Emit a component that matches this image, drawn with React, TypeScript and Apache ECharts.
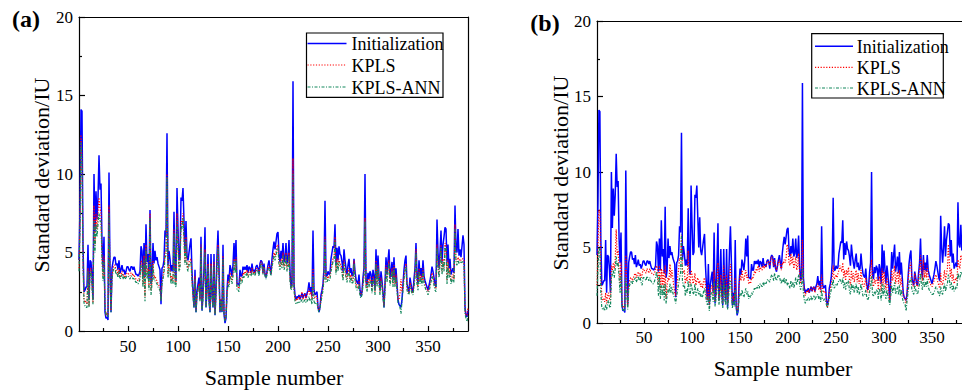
import React, { useEffect, useRef } from "react";
import * as echarts from "echarts";

const SERIES_NAMES = ["Initialization", "KPLS", "KPLS-ANN"];
const X_MAJOR = [50, 100, 150, 200, 250, 300, 350];
const X_MINOR = [25, 75, 125, 175, 225, 275, 325, 375];
const X_MIN = 1;
const X_MAX_A = 390;
const X_MAX_B = 381; // panel (b) is cropped at the right edge of the picture

// Initialization (same in both panels), samples 1..390
const INIT = [
  4.5, 8.0, 14.1, 14.0, 5.5, 2.5, 2.6, 2.8, 2.8, 5.5,
  2.0, 4.5, 4.4, 3.5, 2.0, 10.0, 6.3, 8.9, 7.1, 8.5,
  11.2, 9.0, 9.4, 5.6, 4.0, 6.0, 1.2, 0.8, 0.9, 0.7,
  10.1, 4.0, 1.2, 4.0, 4.4, 4.7, 4.7, 4.2, 4.3, 3.9,
  4.5, 3.7, 3.9, 4.2, 3.8, 3.9, 3.6, 3.8, 4.1, 4.1,
  3.9, 3.8, 4.1, 4.1, 3.9, 4.1, 3.8, 3.6, 3.6, 3.5,
  3.6, 3.8, 5.4, 5.1, 3.4, 5.6, 3.5, 6.8, 4.4, 4.9,
  3.3, 7.7, 3.0, 3.5, 5.6, 4.3, 5.1, 4.5, 4.7, 4.3,
  4.1, 3.9, 1.7, 4.0, 4.1, 4.5, 6.4, 6.0, 12.6, 4.2,
  5.1, 4.6, 3.8, 4.2, 3.8, 7.6, 3.9, 3.2, 9.1, 6.5,
  4.5, 4.7, 8.5, 8.3, 9.1, 7.0, 5.0, 7.0, 4.8, 4.5,
  5.0, 5.5, 5.9, 3.8, 2.5, 1.5, 3.9, 1.2, 2.5, 3.0,
  3.4, 2.0, 6.0, 1.3, 2.3, 4.0, 6.6, 1.5, 2.7, 4.9,
  2.0, 1.2, 4.9, 2.3, 1.5, 4.9, 1.0, 2.5, 4.8, 6.4,
  4.0, 1.2, 2.0, 1.2, 5.5, 1.1, 0.5, 0.8, 2.6, 3.6,
  3.2, 4.2, 3.9, 3.5, 4.2, 5.6, 4.4, 5.8, 3.0, 3.0,
  2.9, 3.9, 3.5, 3.5, 4.1, 3.9, 4.1, 3.9, 4.2, 3.7,
  4.1, 4.0, 3.7, 4.3, 3.8, 3.9, 3.7, 4.1, 4.2, 4.0,
  3.6, 4.3, 4.5, 4.4, 3.7, 4.3, 3.6, 3.4, 3.8, 4.2,
  4.5, 4.0, 3.6, 4.6, 5.2, 5.7, 5.2, 5.7, 6.2, 6.3,
  4.9, 4.4, 5.1, 4.6, 5.6, 4.4, 4.6, 5.6, 4.3, 4.6,
  5.8, 3.8, 2.8, 3.0, 15.9, 3.0, 2.3, 2.0, 2.2, 2.1,
  2.3, 2.0, 2.2, 2.4, 2.1, 2.3, 2.4, 2.1, 2.4, 2.6,
  3.1, 2.5, 2.8, 2.2, 6.4, 2.6, 2.3, 2.4, 2.5, 1.5,
  1.2, 1.5, 2.3, 2.6, 3.0, 4.0, 8.3, 3.5, 3.5, 3.8,
  3.6, 3.7, 4.6, 5.0, 5.4, 5.3, 6.8, 4.2, 5.3, 4.5,
  5.4, 4.9, 4.8, 4.4, 3.8, 5.2, 4.5, 4.0, 3.6, 4.2,
  4.6, 3.7, 4.0, 3.5, 3.6, 4.6, 3.8, 3.3, 3.1, 3.0,
  3.6, 2.6, 2.2, 2.5, 3.4, 4.0, 10.0, 3.2, 2.9, 3.7,
  3.3, 3.8, 3.6, 2.8, 3.9, 3.5, 2.6, 5.2, 3.3, 4.8,
  3.5, 2.6, 3.8, 3.2, 2.4, 1.5, 3.0, 4.7, 3.6, 4.5,
  5.2, 3.4, 3.8, 4.4, 3.3, 4.7, 3.2, 4.0, 3.0, 2.0,
  1.7, 1.6, 1.5, 2.0, 3.0, 3.9, 4.5, 4.8, 3.0, 2.7,
  2.5, 3.4, 3.0, 2.6, 2.5, 3.3, 4.0, 5.6, 3.5, 3.0,
  4.5, 3.5, 4.0, 3.4, 4.5, 3.5, 3.2, 3.0, 2.8, 2.6,
  2.9, 3.2, 3.6, 4.1, 3.8, 3.4, 3.0, 2.8, 7.1, 5.0,
  4.0, 5.0, 6.4, 4.4, 5.5, 6.0, 6.6, 6.5, 4.4, 5.5,
  4.0, 4.6, 3.6, 3.8, 4.0, 3.7, 8.0, 5.2, 5.0, 6.5,
  4.8, 5.2, 4.7, 5.4, 6.1, 5.5, 1.5, 1.0, 0.9, 1.3,
];

// Panel (a) KPLS
const KPLS_A = [
  4.0, 7.0, 12.5, 11.0, 4.5, 2.0, 1.8, 1.9, 1.7, 4.0,
  1.6, 3.8, 4.0, 3.0, 1.8, 8.0, 5.5, 7.5, 6.5, 7.5,
  8.5, 7.8, 7.5, 4.8, 3.5, 4.8, 1.5, 1.0, 1.2, 1.0,
  8.0, 3.5, 1.3, 3.5, 4.0, 4.2, 4.2, 3.8, 3.9, 3.5,
  4.0, 3.4, 3.6, 3.8, 3.5, 3.6, 3.4, 3.5, 3.7, 3.7,
  3.6, 3.5, 3.7, 3.7, 3.5, 3.6, 3.4, 3.3, 3.3, 3.2,
  3.3, 3.5, 4.5, 4.4, 3.0, 4.8, 2.2, 5.5, 3.6, 4.0,
  2.8, 7.5, 2.6, 3.2, 4.5, 3.4, 3.5, 3.3, 3.2, 3.0,
  2.9, 2.8, 2.0, 3.2, 3.5, 3.9, 5.0, 5.0, 10.0, 3.6,
  4.2, 4.0, 3.2, 3.5, 3.2, 6.5, 3.2, 3.0, 7.5, 5.8,
  4.0, 4.2, 7.0, 6.8, 7.5, 6.0, 4.4, 6.0, 4.2, 4.0,
  4.4, 4.5, 4.6, 3.3, 2.3, 1.6, 3.5, 1.3, 2.3, 2.7,
  3.0, 2.0, 5.5, 1.4, 2.2, 3.6, 5.2, 1.6, 2.5, 4.3,
  2.0, 1.3, 4.3, 2.2, 1.6, 4.4, 1.1, 2.4, 4.3, 5.5,
  3.6, 1.3, 2.0, 1.3, 4.8, 1.2, 0.7, 1.0, 2.4, 3.2,
  3.0, 3.7, 3.5, 3.2, 3.7, 4.6, 3.9, 4.7, 2.8, 2.8,
  2.7, 3.5, 3.2, 3.3, 3.7, 3.6, 3.8, 3.7, 3.9, 3.5,
  3.8, 3.8, 3.6, 4.0, 3.7, 3.8, 3.6, 3.9, 4.0, 3.9,
  3.6, 4.1, 4.4, 4.3, 3.7, 4.1, 3.6, 3.4, 3.7, 4.0,
  4.2, 3.9, 3.6, 4.3, 4.6, 5.0, 4.7, 5.0, 5.4, 5.5,
  4.4, 4.1, 4.6, 4.2, 5.0, 4.1, 4.3, 5.0, 4.0, 4.2,
  5.0, 3.4, 2.7, 2.8, 11.0, 2.8, 2.1, 1.9, 2.1, 2.0,
  2.2, 2.0, 2.3, 2.5, 2.0, 2.2, 2.4, 2.0, 2.3, 2.4,
  2.7, 2.3, 2.5, 2.0, 4.0, 2.3, 2.1, 2.2, 2.2, 1.5,
  1.3, 1.5, 2.1, 2.4, 2.8, 3.5, 6.0, 3.3, 3.3, 3.5,
  3.4, 3.5, 4.0, 4.3, 4.6, 4.6, 6.0, 3.8, 4.6, 4.0,
  4.6, 4.3, 4.2, 3.9, 3.4, 4.5, 4.0, 3.6, 3.3, 3.8,
  4.0, 3.3, 3.6, 3.2, 3.3, 4.5, 3.5, 3.0, 2.8, 2.8,
  3.2, 2.4, 2.3, 2.5, 3.1, 3.6, 7.2, 3.0, 2.7, 3.3,
  3.0, 3.4, 3.3, 2.6, 3.5, 3.2, 2.5, 4.5, 3.0, 4.2,
  3.2, 2.5, 3.4, 3.0, 2.3, 1.6, 2.8, 4.2, 3.3, 4.0,
  4.5, 3.1, 3.5, 4.0, 3.0, 4.2, 3.0, 3.6, 2.8, 2.0,
  2.0, 2.4, 3.3, 2.5, 2.8, 3.5, 4.0, 4.3, 2.8, 2.6,
  2.4, 3.1, 2.8, 2.5, 2.4, 3.0, 3.6, 5.2, 3.2, 2.8,
  4.0, 3.2, 3.6, 3.1, 4.0, 3.2, 3.0, 2.8, 2.7, 2.5,
  2.7, 3.0, 3.3, 3.7, 3.5, 3.1, 2.8, 2.7, 5.5, 4.2,
  3.6, 4.4, 5.5, 3.8, 4.6, 4.0, 5.6, 5.5, 3.2, 4.5,
  3.6, 4.0, 3.2, 3.4, 3.6, 3.3, 6.8, 4.5, 4.4, 4.7,
  4.5, 4.6, 4.5, 4.6, 4.6, 4.5, 1.3, 1.0, 1.0, 1.5,
];

// Panel (a) KPLS-ANN
const ANN_A = [
  3.8, 6.5, 12.0, 10.5, 4.2, 1.8, 1.6, 1.5, 1.5, 3.8,
  1.5, 3.5, 3.8, 2.8, 1.7, 7.0, 5.0, 6.8, 6.0, 6.8,
  7.5, 7.0, 7.0, 4.5, 3.2, 4.5, 1.4, 1.0, 1.1, 0.9,
  7.5, 3.3, 1.2, 3.3, 3.8, 4.0, 4.0, 3.6, 3.7, 3.4,
  3.8, 3.3, 3.4, 3.6, 3.3, 3.5, 3.3, 3.4, 3.5, 3.5,
  3.4, 3.3, 3.5, 3.5, 3.3, 3.4, 3.2, 3.1, 3.1, 3.0,
  3.1, 3.3, 4.2, 4.1, 2.8, 4.5, 1.9, 5.2, 3.3, 3.8,
  2.6, 7.2, 2.3, 3.0, 4.2, 3.2, 3.2, 3.1, 3.0, 2.8,
  2.7, 2.6, 1.9, 3.0, 3.3, 3.7, 4.7, 4.8, 9.8, 3.4,
  4.0, 3.8, 3.0, 3.3, 3.0, 6.2, 3.0, 2.8, 7.0, 5.5,
  3.8, 4.0, 6.7, 6.5, 7.2, 5.8, 4.2, 5.7, 4.0, 3.8,
  4.2, 4.3, 4.4, 3.1, 2.2, 1.5, 3.3, 1.2, 2.2, 2.6,
  2.9, 1.9, 5.3, 1.3, 2.1, 3.4, 5.0, 1.5, 2.4, 4.1,
  1.9, 1.2, 4.1, 2.1, 1.5, 4.2, 1.0, 2.3, 4.1, 5.3,
  3.4, 1.2, 1.9, 1.2, 4.6, 1.1, 0.6, 0.9, 2.3, 3.0,
  2.8, 3.5, 3.3, 3.0, 3.5, 4.4, 3.7, 4.5, 2.6, 2.6,
  2.5, 3.3, 3.0, 3.1, 3.5, 3.4, 3.6, 3.5, 3.7, 3.4,
  3.6, 3.6, 3.5, 3.8, 3.6, 3.7, 3.5, 3.8, 3.9, 3.8,
  3.5, 4.0, 4.3, 4.2, 3.6, 4.0, 3.5, 3.3, 3.6, 3.9,
  4.0, 3.8, 3.5, 4.1, 4.4, 4.8, 4.5, 4.8, 5.2, 5.3,
  4.2, 3.9, 4.4, 4.0, 4.8, 3.9, 4.1, 4.8, 3.8, 4.0,
  4.8, 3.2, 2.6, 2.7, 10.0, 2.6, 1.9, 1.7, 1.8, 1.8,
  1.9, 1.8, 1.9, 2.0, 1.8, 1.9, 2.0, 1.8, 1.9, 2.0,
  2.2, 1.9, 2.0, 1.7, 3.5, 1.9, 1.7, 1.8, 1.8, 1.4,
  1.2, 1.4, 1.9, 2.2, 2.6, 3.3, 5.8, 3.1, 3.1, 3.3,
  3.2, 3.3, 3.8, 4.1, 4.4, 4.4, 5.8, 3.6, 4.4, 3.8,
  4.4, 4.1, 4.0, 3.7, 3.2, 4.3, 3.8, 3.4, 3.1, 3.6,
  3.8, 3.1, 3.4, 3.0, 3.1, 4.3, 3.3, 2.8, 2.6, 2.6,
  3.0, 2.2, 2.1, 2.3, 2.9, 3.4, 7.0, 2.8, 2.5, 3.1,
  2.8, 3.2, 3.1, 2.4, 3.3, 3.0, 2.3, 4.3, 2.8, 4.0,
  3.0, 2.3, 3.2, 2.8, 2.1, 1.5, 2.6, 4.0, 3.1, 3.8,
  4.3, 2.9, 3.3, 3.8, 2.8, 4.0, 2.8, 3.4, 2.6, 1.8,
  1.7, 1.5, 1.1, 1.9, 2.6, 3.3, 3.8, 4.1, 2.6, 2.4,
  2.3, 2.9, 2.6, 2.4, 2.3, 2.8, 3.4, 5.0, 3.0, 2.6,
  3.8, 3.0, 3.4, 2.9, 3.8, 3.0, 2.8, 2.6, 2.5, 2.3,
  2.5, 2.8, 3.1, 3.5, 3.3, 2.9, 2.6, 2.5, 5.3, 4.0,
  3.4, 4.2, 5.3, 3.6, 4.4, 3.8, 5.4, 5.3, 3.0, 4.3,
  3.4, 3.8, 3.0, 3.2, 3.4, 3.1, 6.5, 4.3, 4.2, 4.5,
  4.3, 4.4, 4.3, 4.4, 4.4, 4.3, 1.1, 0.8, 0.6, 1.0,
];

// Panel (b) KPLS
const KPLS_B = [
  2.5, 5.0, 7.5, 7.4, 3.0, 1.8, 1.5, 1.6, 1.4, 2.0,
  1.3, 1.8, 2.0, 1.6, 1.5, 3.8, 3.5, 4.0, 3.6, 4.2,
  6.2, 4.5, 4.8, 3.5, 2.5, 4.0, 1.4, 1.0, 1.1, 1.0,
  4.5, 2.5, 1.1, 2.5, 2.8, 3.0, 3.0, 2.8, 3.0, 3.2,
  3.3, 3.0, 3.2, 3.4, 3.1, 3.3, 3.0, 3.2, 3.6, 3.5,
  3.4, 3.3, 3.6, 3.5, 3.3, 3.6, 3.4, 3.3, 3.2, 3.2,
  3.3, 3.6, 3.8, 3.5, 2.5, 3.8, 2.2, 3.6, 2.5, 3.5,
  2.0, 3.8, 1.6, 2.5, 3.0, 2.8, 3.9, 3.0, 3.5, 3.0,
  2.4, 2.0, 1.8, 2.5, 3.0, 3.5, 4.3, 4.2, 5.8, 3.5,
  3.3, 3.5, 2.6, 3.0, 2.8, 4.8, 3.0, 2.5, 3.5, 3.2,
  2.6, 2.8, 3.3, 2.5, 2.8, 3.0, 2.6, 2.8, 2.4, 2.6,
  2.3, 2.8, 3.0, 2.5, 1.8, 1.5, 2.5, 1.2, 2.0, 2.4,
  2.5, 1.8, 3.5, 1.4, 2.0, 2.8, 4.0, 1.5, 2.2, 3.2,
  1.8, 1.3, 3.8, 2.0, 1.6, 3.2, 1.2, 2.2, 3.0, 3.9,
  2.8, 1.3, 1.8, 1.4, 3.0, 1.3, 0.8, 1.0, 2.5, 3.2,
  2.8, 3.5, 3.0, 2.8, 3.2, 3.5, 3.0, 3.2, 2.6, 2.7,
  2.6, 3.0, 2.9, 3.1, 3.4, 3.3, 3.6, 3.5, 3.8, 3.4,
  3.7, 3.6, 3.5, 3.9, 3.6, 3.8, 3.7, 4.0, 4.1, 4.0,
  3.8, 4.2, 4.4, 4.3, 3.8, 4.2, 3.7, 3.5, 3.8, 4.0,
  4.2, 3.8, 3.5, 4.0, 3.9, 4.2, 4.0, 4.3, 5.2, 5.0,
  4.0, 3.8, 4.6, 3.9, 4.4, 3.6, 3.9, 4.4, 3.5, 3.8,
  4.6, 3.3, 2.6, 2.8, 5.5, 2.8, 2.0, 1.8, 2.1, 2.0,
  2.2, 2.0, 2.3, 2.4, 2.1, 2.3, 2.4, 2.0, 2.3, 2.4,
  2.6, 2.2, 2.4, 2.0, 3.2, 2.2, 2.0, 2.1, 2.1, 1.4,
  1.0, 1.4, 2.0, 2.3, 2.6, 3.0, 3.8, 2.9, 3.0, 3.2,
  3.0, 3.3, 3.5, 3.8, 3.6, 3.4, 4.0, 3.0, 3.5, 2.8,
  3.5, 3.2, 3.7, 2.8, 2.5, 3.5, 2.9, 3.3, 2.7, 3.2,
  3.5, 2.7, 3.3, 2.6, 2.8, 3.5, 2.9, 2.5, 2.4, 2.6,
  3.0, 2.2, 2.0, 2.3, 2.8, 3.2, 4.2, 2.6, 2.4, 2.9,
  2.6, 3.0, 2.9, 2.2, 3.1, 2.8, 2.1, 3.6, 2.5, 3.4,
  2.7, 2.2, 3.0, 2.5, 2.0, 1.5, 2.5, 3.5, 2.8, 3.2,
  3.8, 2.6, 3.0, 3.4, 2.6, 3.5, 2.5, 3.0, 2.4, 1.8,
  1.7, 1.6, 1.3, 2.0, 2.6, 3.5, 3.8, 4.0, 2.8, 2.5,
  2.4, 3.3, 2.8, 2.5, 2.4, 3.0, 3.5, 4.5, 3.2, 2.8,
  4.2, 3.0, 3.5, 3.0, 3.8, 3.0, 2.8, 2.6, 2.5, 2.4,
  2.6, 2.8, 3.0, 3.2, 3.0, 2.7, 2.5, 2.3, 3.3, 2.6,
  2.5, 3.0, 3.5, 2.8, 3.2, 3.6, 5.2, 4.0, 3.0, 3.6,
  2.8, 3.2, 2.6, 2.8, 3.0, 2.8, 4.2, 3.8, 3.6, 4.5,
  4.3, 4.0, 3.8, 4.0, 4.2, 4.0, 1.3, 1.0, 1.0, 1.5,
];

// Panel (b) KPLS-ANN
const ANN_B = [
  1.8, 3.5, 5.0, 4.8, 2.0, 1.0, 0.9, 1.0, 0.8, 1.2,
  0.9, 1.3, 1.5, 1.1, 1.0, 3.0, 3.2, 3.5, 3.0, 3.6,
  4.4, 3.8, 4.0, 3.0, 2.0, 3.2, 1.0, 0.8, 0.9, 0.8,
  3.0, 2.0, 0.9, 2.2, 2.5, 2.7, 2.8, 2.6, 2.8, 2.9,
  3.0, 2.7, 2.9, 3.1, 2.8, 3.0, 2.7, 2.5, 3.0, 3.0,
  2.9, 2.8, 3.1, 3.0, 2.8, 3.0, 2.8, 2.7, 2.6, 2.6,
  2.8, 3.0, 3.4, 3.0, 1.8, 3.1, 1.6, 2.5, 1.8, 2.5,
  1.5, 2.6, 1.3, 1.8, 2.2, 2.0, 2.6, 2.0, 2.4, 2.0,
  1.8, 1.6, 1.3, 1.8, 2.2, 2.6, 3.0, 3.3, 5.9, 2.8,
  2.4, 2.6, 1.8, 2.2, 2.0, 2.8, 2.2, 1.8, 2.6, 2.3,
  1.9, 2.0, 2.6, 1.8, 2.0, 2.3, 1.9, 2.1, 1.7, 1.9,
  1.7, 2.1, 2.3, 1.9, 1.4, 1.2, 1.8, 0.8, 1.6, 2.0,
  2.0, 1.4, 2.8, 1.1, 1.6, 2.2, 2.9, 1.2, 1.8, 2.5,
  1.5, 1.0, 2.9, 1.6, 1.2, 2.5, 0.9, 1.7, 2.4, 2.8,
  2.2, 1.0, 1.4, 1.1, 2.2, 1.0, 0.6, 0.8, 1.6, 2.0,
  1.8, 2.2, 1.9, 1.7, 2.0, 2.3, 1.9, 2.1, 1.6, 1.8,
  1.7, 2.0, 1.9, 2.1, 2.3, 2.2, 2.4, 2.3, 2.5, 2.3,
  2.6, 2.5, 2.4, 2.7, 2.5, 2.7, 2.6, 2.8, 2.9, 2.8,
  2.7, 3.0, 3.2, 3.1, 2.8, 3.3, 3.0, 2.8, 3.0, 3.2,
  3.1, 2.8, 2.6, 2.9, 2.7, 3.0, 2.6, 2.9, 2.5, 2.7,
  2.5, 2.3, 2.8, 2.4, 2.7, 2.3, 2.6, 3.0, 2.5, 2.8,
  3.2, 2.6, 2.2, 2.4, 3.6, 2.0, 1.5, 1.3, 1.6, 1.5,
  1.7, 1.5, 1.6, 1.8, 1.5, 1.7, 1.8, 1.5, 1.7, 1.8,
  1.9, 1.6, 1.8, 1.4, 2.2, 1.6, 1.5, 1.6, 1.5, 1.2,
  1.0, 1.3, 1.6, 1.9, 2.2, 2.5, 2.9, 2.3, 2.4, 2.6,
  2.5, 2.7, 2.8, 2.9, 2.7, 2.6, 3.0, 2.3, 2.7, 2.2,
  2.7, 2.5, 2.8, 2.1, 1.9, 2.6, 2.2, 2.5, 2.0, 2.4,
  2.6, 2.0, 2.4, 1.9, 2.1, 2.6, 2.2, 1.8, 1.8, 1.9,
  2.2, 1.7, 1.5, 1.7, 2.1, 2.4, 3.1, 1.9, 1.8, 2.1,
  1.9, 2.2, 2.1, 1.6, 2.3, 2.0, 1.5, 2.6, 1.8, 2.5,
  1.9, 1.6, 2.2, 1.8, 1.5, 1.2, 1.8, 2.5, 2.0, 2.3,
  2.7, 1.9, 2.2, 2.4, 1.9, 2.5, 1.8, 2.2, 1.7, 1.4,
  1.3, 1.2, 0.8, 1.5, 2.0, 2.6, 2.8, 3.0, 2.2, 2.0,
  1.9, 2.5, 2.2, 2.0, 1.9, 2.3, 2.6, 3.3, 2.5, 2.2,
  3.0, 2.4, 2.7, 2.4, 2.9, 2.4, 2.2, 2.1, 2.0, 1.9,
  1.9, 2.0, 2.2, 2.4, 2.3, 2.1, 1.9, 1.8, 2.4, 2.0,
  1.9, 2.3, 2.6, 2.1, 2.4, 2.6, 3.2, 2.9, 2.3, 2.7,
  2.2, 2.5, 2.1, 2.2, 2.4, 2.3, 3.3, 3.0, 2.9, 3.4,
  3.3, 3.1, 3.0, 3.1, 3.2, 3.1, 1.0, 0.8, 0.7, 1.1,
];

const FONT = "'Liberation Serif', 'Times New Roman', serif";
const BLUE = "#0000FF";
const RED = "#FF0000";
const GREEN = "#13875C";
const STYLES: Record<string, any> = {
  Initialization: { color: BLUE, width: 1.5, dash: null },
  KPLS: { color: RED, width: 1.2, dash: [1.2, 1.6] },
  "KPLS-ANN": { color: GREEN, width: 1.2, dash: [3, 1.5, 1, 1.5] },
};

const toPairs = (arr: number[]) => arr.map((v, i) => [X_MIN + i, v]);

export default function App() {
  const ref = useRef<HTMLDivElement>(null);
  useEffect(() => {
    if (!ref.current) return;
    const chart = echarts.init(ref.current, null, { renderer: "svg" });

    const grids = [
      { left: 79, top: 17, width: 389, height: 314, max: X_MAX_A, showBorder: true },
      { left: 597, top: 21, width: (X_MAX_B - X_MIN) * 0.96, height: 302, max: X_MAX_B, showBorder: false },
    ];

    const axisLineStyle = { color: "#000", width: 1.2 };
    const xAxes: any[] = [];
    const yAxes: any[] = [];
    grids.forEach((g, gi) => {
      xAxes.push({
        type: "value",
        gridIndex: gi,
        min: X_MIN,
        max: g.max,
        position: "bottom",
        axisLine: { show: true, onZero: false, lineStyle: axisLineStyle },
        axisTick: { show: true, inside: true, length: 5, customValues: X_MAJOR, lineStyle: axisLineStyle },
        axisLabel: {
          show: true,
          customValues: X_MAJOR,
          color: "#000",
          fontFamily: FONT,
          fontSize: 17,
          margin: gi === 0 ? 7 : 6,
        },
        splitLine: { show: false },
      });
      xAxes.push({
        type: "value",
        gridIndex: gi,
        min: X_MIN,
        max: g.max,
        position: "bottom",
        axisLine: { show: false, onZero: false },
        axisTick: { show: true, inside: true, length: 3, customValues: X_MINOR, lineStyle: axisLineStyle },
        axisLabel: { show: false },
        splitLine: { show: false },
      });
      // top border line
      xAxes.push({
        type: "value",
        gridIndex: gi,
        min: X_MIN,
        max: g.max,
        position: "top",
        axisLine: { show: true, onZero: false, lineStyle: axisLineStyle },
        axisTick: { show: false },
        axisLabel: { show: false },
        splitLine: { show: false },
      });
      yAxes.push({
        type: "value",
        gridIndex: gi,
        min: 0,
        max: 20,
        interval: 5,
        position: "left",
        axisLine: { show: true, onZero: false, lineStyle: axisLineStyle },
        axisTick: { show: true, inside: true, length: 6, lineStyle: axisLineStyle },
        minorTick: { show: true, splitNumber: 2, length: 3, lineStyle: axisLineStyle },
        axisLabel: { color: "#000", fontFamily: FONT, fontSize: 17, margin: 6 },
        splitLine: { show: false },
        minorSplitLine: { show: false },
      });
      if (g.showBorder) {
        yAxes.push({
          type: "value",
          gridIndex: gi,
          min: 0,
          max: 20,
          position: "right",
          axisLine: { show: true, onZero: false, lineStyle: axisLineStyle },
          axisTick: { show: false },
          axisLabel: { show: false },
          splitLine: { show: false },
        });
      }
    });

    const mk = (name: string, data: number[], gi: number) => {
      const s = STYLES[name];
      return {
        name,
        type: "line",
        xAxisIndex: gi * 3,
        yAxisIndex: gi === 0 ? 0 : 2,
        data: toPairs(data),
        showSymbol: false,
        symbol: "none",
        lineStyle: { color: s.color, width: s.width, type: s.dash || "solid" },
        itemStyle: { color: s.color },
        emphasis: { disabled: true },
        clip: true,
      };
    };

    const text = (x: number, y: number, t: string, opts: any = {}) => ({
      type: "text",
      x,
      y,
      rotation: opts.rotation || 0,
      z: 100,
      style: {
        text: t,
        fill: "#000",
        font: `${opts.weight || "normal"} ${opts.size || 22}px ${FONT}`,
        textAlign: opts.align || "center",
        textVerticalAlign: "middle",
      },
    });

    const legendBox = (
      x0: number,
      y0: number,
      x1: number,
      y1: number,
      lineX0: number,
      lineX1: number,
      textX: number,
      rowsY: number[]
    ) => {
      const items: any[] = [
        {
          type: "rect",
          z: 90,
          shape: { x: x0, y: y0, width: x1 - x0, height: y1 - y0 },
          style: { fill: "#fff", stroke: "#000", lineWidth: 1.2 },
        },
      ];
      SERIES_NAMES.forEach((name, i) => {
        const s = STYLES[name];
        items.push({
          type: "line",
          z: 95,
          shape: { x1: lineX0, y1: rowsY[i], x2: lineX1, y2: rowsY[i] },
          style: { stroke: s.color, lineWidth: s.width, lineDash: s.dash || null },
        });
        items.push(text(textX, rowsY[i] + 0.5, name, { size: 18, align: "left" }));
      });
      return items;
    };

    chart.setOption({
      animation: false,
      backgroundColor: "#fff",
      grid: grids.map((g) => ({
        left: g.left,
        top: g.top,
        width: g.width,
        height: g.height,
        show: false,
        containLabel: false,
      })),
      xAxis: xAxes,
      yAxis: yAxes,
      series: [
        mk("Initialization", INIT, 0),
        mk("KPLS", KPLS_A, 0),
        mk("KPLS-ANN", ANN_A, 0),
        mk("Initialization", INIT, 1),
        mk("KPLS", KPLS_B, 1),
        mk("KPLS-ANN", ANN_B, 1),
      ],
      graphic: [
        ...legendBox(306.5, 33, 443, 97.3, 307.5, 346.5, 351.5, [43.5, 65, 87]),
        ...legendBox(811.7, 33.7, 943.3, 98, 815, 853, 856.7, [46.3, 67.3, 88]),
        text(26, 19, "(a)", { weight: "bold", size: 24 }),
        text(545, 23, "(b)", { weight: "bold", size: 24 }),
        text(274, 377, "Sample number"),
        text(783, 368, "Sample number"),
        text(41, 175, "Standard deviation/IU", { rotation: Math.PI / 2 }),
        text(560, 173, "Standard deviation/IU", { rotation: Math.PI / 2 }),
      ],
    });
    return () => chart.dispose();
  }, []);

  return (
    <div
      ref={ref}
      style={{ position: "fixed", left: 0, top: 0, width: 962, height: 392, background: "#fff" }}
    />
  );
}
